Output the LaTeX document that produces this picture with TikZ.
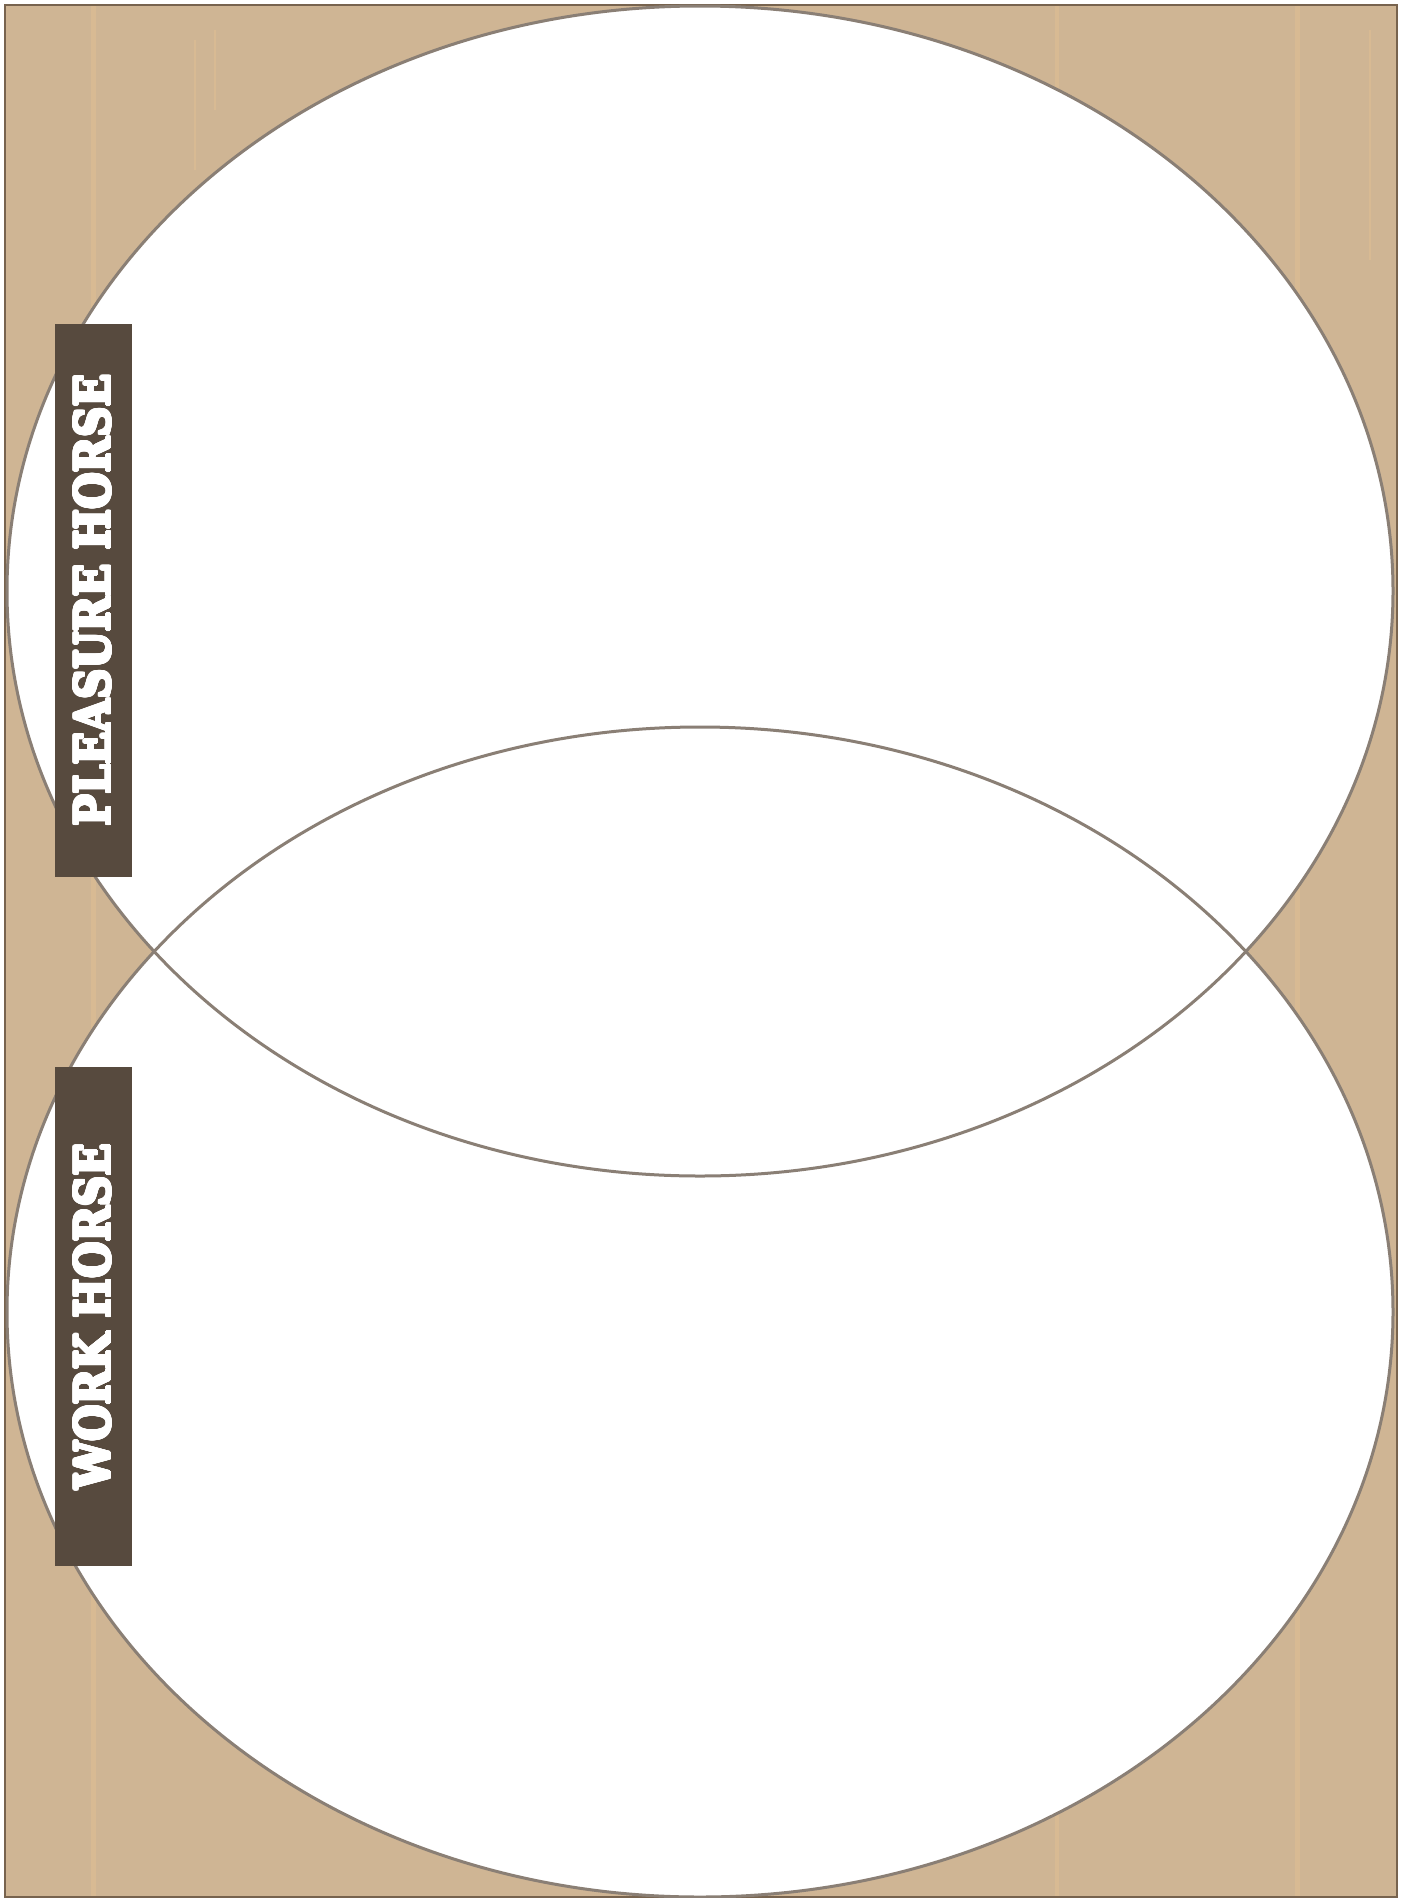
\documentclass[tikz,border=0pt]{standalone}
\usepackage{fontspec}
\setmainfont{DejaVu Serif}
\usepackage{graphicx}
\usepackage[copies]{contour}
\contournumber{24}
\contourlength{0.32pt}
\definecolor{tan}{HTML}{CFB594}
\definecolor{tanlight}{HTML}{D8BA93}
\definecolor{frame}{HTML}{77634E}
\definecolor{ring}{HTML}{8A7F75}
\definecolor{labelbg}{HTML}{574A3E}
\tikzset{
  ringline/.style={draw=ring, line width=3pt},
  labelbox/.style={fill=labelbg, inner sep=0pt, minimum width=77.5pt, text=white},
  streak/.style={tanlight, line width=#1},
}
\newcommand{\lbl}[2]{\rotatebox{90}{\resizebox{#1}{36pt}{\bfseries\contour{white}{#2}}}}
\begin{document}
\begin{tikzpicture}[x=1pt,y=-1pt]
\useasboundingbox (0,0) rectangle (1407,1898);
% background board
\fill[tan] (5,5) rectangle (1397,1897);
\draw[streak=5pt] (93,6) -- (93,1896);
\draw[streak=4pt] (1057,6) -- (1057,1896);
\draw[streak=5pt] (1297,6) -- (1297,1896);
\draw[streak=2pt] (195,40) -- (195,170);
\draw[streak=2pt] (215,30) -- (215,110);
\draw[streak=2pt] (1370,30) -- (1370,260);
\draw[frame, line width=2.4pt] (5,5) rectangle (1397,1897);
% circles
\coordinate (c1) at (700,591);
\coordinate (c2) at (700,1312);
\fill[white] (c1) ellipse [x radius=693, y radius=585];
\fill[white] (c2) ellipse [x radius=693, y radius=585];
\draw[ringline] (c1) ellipse [x radius=693, y radius=585];
\draw[ringline] (c2) ellipse [x radius=693, y radius=585];
% labels
\node[labelbox, minimum height=553pt] (pleasure) at (93.25,600.5) {\lbl{452pt}{PLEASURE HORSE}};
\node[labelbox, minimum height=499pt] (work) at (93.25,1316.5) {\lbl{345pt}{WORK HORSE}};
\end{tikzpicture}
\end{document}
